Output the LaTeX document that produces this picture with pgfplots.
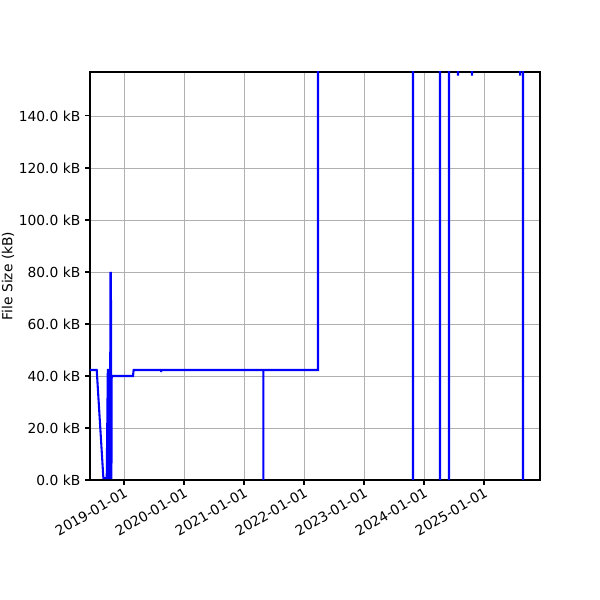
\documentclass[border=0pt]{standalone}
\usepackage{pgfplots}
\pgfplotsset{compat=1.18}
\usepackage{fontspec}
\setmainfont{DejaVu Sans}

% file size over time; x in decimal years, y in kB
\pgfplotstableread{
x y
2018.433 42.3
2018.545 42.3
2018.656 0.7
2018.712 0.7
2018.730 42.3
2018.736 42.3
2018.750 0.7
2018.765 0.7
2018.775 79.6
2018.782 79.6
2018.785 0.7
2018.790 0.7
2018.795 40.0
2019.150 40.0
2019.160 42.3
2019.617 42.3
2019.617 41.5
2019.617 42.3
2021.322 42.3
2021.322 0.0
2021.322 42.3
2022.233 42.3
2022.233 300
2023.817 300
2023.817 0.0
2023.817 300
2024.267 300
2024.267 0.0
2024.267 300
2024.417 300
2024.417 0.0
2024.417 300
2024.567 300
2024.567 155.5
2024.567 300
2024.800 300
2024.800 155.5
2024.800 300
2025.602 300
2025.602 155.5
2025.602 300
2025.650 300
2025.650 0.0
2025.650 300
2025.930 300
}\sizedata

\begin{document}
\begin{tikzpicture}
\begin{axis}[
    at={(0,0)}, anchor=south west,
    scale only axis,
    width=4.5in, height=4.08in,
    xmin=2018.433, xmax=2025.933,
    ymin=0, ymax=156.9,
    xtick={2019,2020,2021,2022,2023,2024,2025},
    xticklabels={2019-01-01,2020-01-01,2021-01-01,2022-01-01,2023-01-01,2024-01-01,2025-01-01},
    ytick={0,20,40,60,80,100,120,140},
    yticklabels={0.0 kB,20.0 kB,40.0 kB,60.0 kB,80.0 kB,100.0 kB,120.0 kB,140.0 kB},
    xticklabel style={rotate=30, anchor=north east, inner sep=1pt},
    ticklabel style={font=\fontsize{10}{12}\selectfont},
    ylabel={File Size (kB)},
    ylabel style={font=\fontsize{10}{12}\selectfont,
        at={(axis description cs:0,0.5)}, anchor=south, yshift=0.71in},
    tick pos=left,
    tick align=outside,
    major tick length=3.5pt,
    grid=major,
    grid style={color=black!31, line width=0.6pt},
    axis line style={line width=0.8pt},
    every tick/.style={black, line width=0.8pt},
]
\addplot[blue, line width=1.5pt, mark=none] table[x=x, y=y] {\sizedata};
\end{axis}
\pgfresetboundingbox
\path (-0.9in,-1.2in) rectangle (5.1in,4.8in);
\end{tikzpicture}
\end{document}
